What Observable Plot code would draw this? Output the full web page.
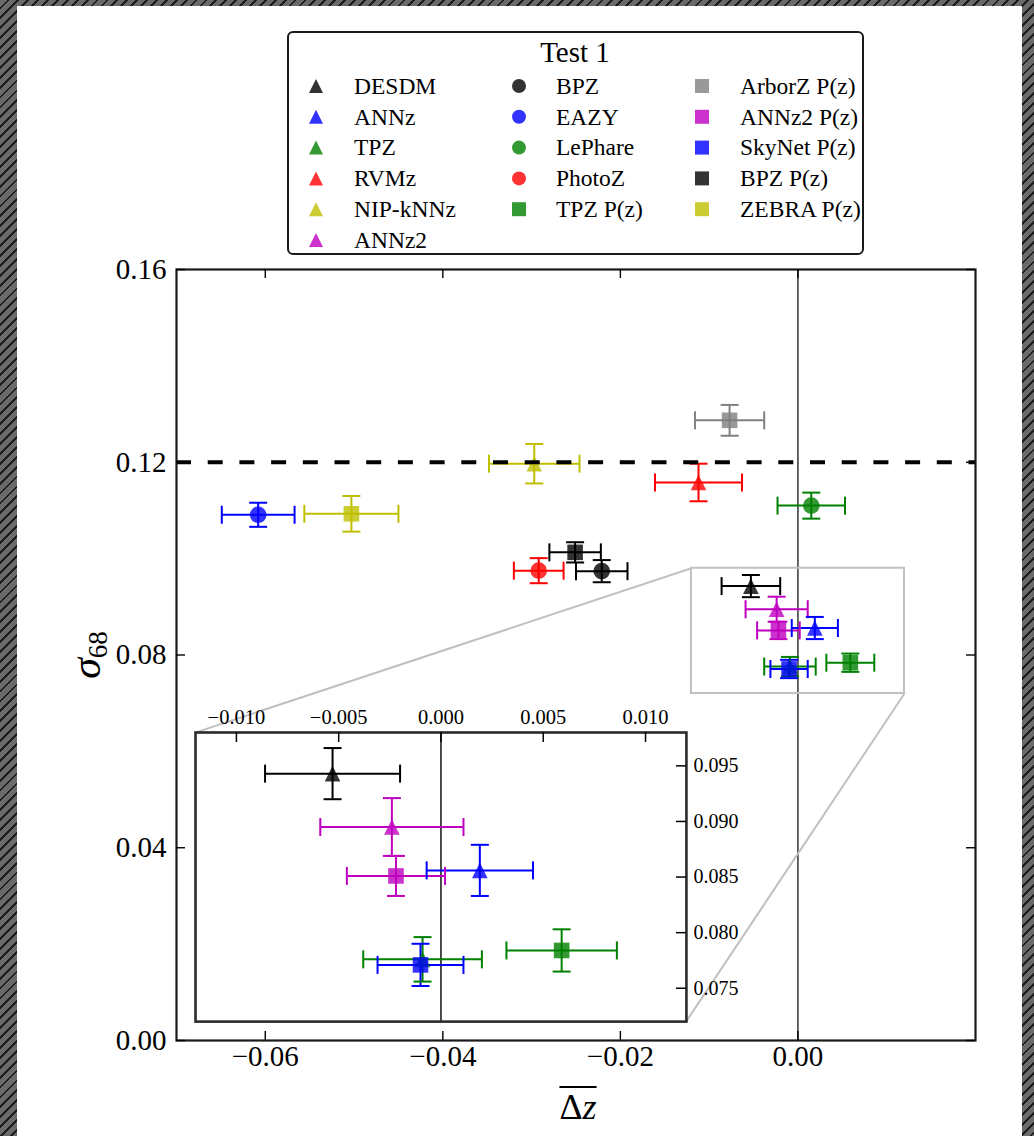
<!DOCTYPE html>
<html><head><meta charset="utf-8">
<script src="https://cdn.jsdelivr.net/npm/d3@7"></script>
<script src="https://cdn.jsdelivr.net/npm/@observablehq/plot@0.6"></script>
<style>
html,body{margin:0;padding:0;}
body{width:1034px;height:1136px;position:relative;overflow:hidden;
 background:repeating-linear-gradient(135deg,#6a6a6a 0px,#6a6a6a 5px,#1c1c1c 5px,#1c1c1c 7px);}
#panel{position:absolute;left:17px;top:6px;width:1005px;height:1130px;background:#fff;}
svg{position:absolute;}
</style></head>
<body>
<div id="panel"></div>
<script>
// ---------------- data ----------------
const methods   = ["DESDM","ANNz","TPZ","RVMz","NIP-kNNz","ANNz2",
                   "BPZ","EAZY","LePhare","PhotoZ","TPZ P(z)",
                   "ArborZ P(z)","ANNz2 P(z)","SkyNet P(z)","BPZ P(z)","ZEBRA P(z)"];
const markerType = ["triangle","triangle","triangle","triangle","triangle","triangle",
                    "circle","circle","circle","circle","square",
                    "square","square","square","square","square"];
const colorName  = ["k","b","g","r","y","m","k","b","g","r","g","gray","m","b","k","y"];
const bias       = [-0.0053, 0.0019,-0.0009,-0.0112,-0.0297,-0.0024,
                    -0.0221,-0.0608, 0.0015,-0.0292, 0.0059,
                    -0.0077,-0.0022,-0.0010,-0.0251,-0.0503];
const biasErr    = [0.0033,0.0026,0.0029,0.0049,0.0051,0.0035,
                    0.0029,0.0041,0.0038,0.0028,0.0027,
                    0.0039,0.0024,0.0021,0.0029,0.0053];
const sigma      = [0.0943,0.0856,0.0776,0.1158,0.1197,0.0895,
                    0.0974,0.1091,0.1110,0.0975,0.0784,
                    0.1287,0.0851,0.0771,0.1013,0.1093];
const sigmaErr   = [0.0023,0.0023,0.0020,0.0039,0.0041,0.0026,
                    0.0023,0.0025,0.0027,0.0026,0.0019,
                    0.0032,0.0018,0.0019,0.0021,0.0037];
const xTicksMain  = [-0.06,-0.04,-0.02,0.00];
const yTicksMain  = [0.00,0.04,0.08,0.12,0.16];
const xTicksInset = [-0.010,-0.005,0.000,0.005,0.010];
const yTicksInset = [0.075,0.080,0.085,0.090,0.095];
const xDomainMain  = [-0.07,0.02];
const yDomainMain  = [0,0.16];
const xDomainInset = [-0.012,0.012];
const yDomainInset = [0.072,0.098];
const insetBoxX = [-0.0679,-0.0126];   // inset frame placement, main data coords
const insetBoxY = [0.0039,0.0639];
const threshold = 0.12;
const legendTitle = "Test 1";
const palette = {k:"#000000",b:"#0000ff",g:"#008000",r:"#ff0000",y:"#bfbf00",m:"#bf00bf",gray:"#808080"};

const rows = methods.map((m,i)=>({name:m,marker:markerType[i],col:palette[colorName[i]],
  x:bias[i],xe:biasErr[i],y:sigma[i],ye:sigmaErr[i]}));

// ---------------- symbols ----------------
const rad = s => Math.sqrt(s/Math.PI);
const SYM = {
  triangle:{draw(c,s){const r=rad(s);c.moveTo(0,-r);c.lineTo(r,r);c.lineTo(-r,r);c.closePath();}},
  circle:{draw(c,s){const r=rad(s);c.moveTo(r,0);c.arc(0,0,r,0,2*Math.PI);c.closePath();}},
  square:{draw(c,s){const r=rad(s);c.rect(-r,-r,2*r,2*r);}}
};
const MR = {triangle:7.8,circle:8.3,square:7.8};
const HCAP = {draw(c,s){const r=rad(s);c.moveTo(-r,0);c.lineTo(r,0);}};
const VCAP = {draw(c,s){const r=rad(s);c.moveTo(0,-r);c.lineTo(0,r);}};
const CAP = 9, EW = 2;
const FONT = "Liberation Serif";

function errMarks(clip){
  const col = d=>d.col;
  return [
    Plot.ruleY(rows,{y:"y",x1:d=>d.x-d.xe,x2:d=>d.x+d.xe,stroke:col,strokeWidth:EW,clip}),
    Plot.ruleX(rows,{x:"x",y1:d=>d.y-d.ye,y2:d=>d.y+d.ye,stroke:col,strokeWidth:EW,clip}),
    Plot.dot(rows,{x:d=>d.x-d.xe,y:"y",symbol:VCAP,r:CAP,stroke:col,fill:"none",strokeWidth:EW,clip}),
    Plot.dot(rows,{x:d=>d.x+d.xe,y:"y",symbol:VCAP,r:CAP,stroke:col,fill:"none",strokeWidth:EW,clip}),
    Plot.dot(rows,{x:"x",y:d=>d.y-d.ye,symbol:HCAP,r:CAP,stroke:col,fill:"none",strokeWidth:EW,clip}),
    Plot.dot(rows,{x:"x",y:d=>d.y+d.ye,symbol:HCAP,r:CAP,stroke:col,fill:"none",strokeWidth:EW,clip}),
    ...["triangle","circle","square"].map(s=>Plot.dot(rows.filter(d=>d.marker===s),
      {x:"x",y:"y",symbol:SYM[s],r:MR[s],fill:col,fillOpacity:0.8,stroke:"none",clip}))
  ];
}

// ---------------- legend ----------------
const leg = d3.select("body").append("svg").attr("width",1034).attr("height",258)
  .style("left","0px").style("top","0px").attr("font-family",FONT);
leg.append("rect").attr("x",288).attr("y",32).attr("width",575).attr("height",222)
  .attr("rx",5).attr("fill","#fff").attr("stroke","#1a1a1a").attr("stroke-width",2);
leg.append("text").attr("x",575).attr("y",62).attr("text-anchor","middle")
  .attr("font-size",29).text(legendTitle);
const colCount = [6,5,5], mX = [316,519,702], tX = [354,556,740];
let k = 0;
colCount.forEach((n,c)=>{
  for(let r=0;r<n;r++,k++){
    const d = rows[k], cy = 86 + r*30.8;
    leg.append("path").attr("transform",`translate(${mX[c]},${cy})`)
      .attr("d",d3.symbol().type(SYM[d.marker]).size(Math.PI*7*7)())
      .attr("fill",d.col).attr("fill-opacity",0.8);
    leg.append("text").attr("x",tX[c]).attr("y",cy+7.8).attr("font-size",23.5).text(d.name);
  }
});

// ---------------- main plot ----------------
const TOP = 258, MT = 11, MB = 96, ML = 176, MRt = 59, W = 1034, H = 1136-TOP;
const FW = W-ML-MRt, FH = H-MT-MB;
const main = Plot.plot({
  width:W,height:H,marginLeft:ML,marginRight:MRt,marginTop:MT,marginBottom:MB,
  x:{domain:xDomainMain,axis:null},
  y:{domain:yDomainMain,axis:null},
  color:{type:"identity"},
  style:{fontFamily:FONT,background:"transparent",color:"black",overflow:"visible"},
  marks:[
    Plot.ruleX([0],{stroke:"black",strokeWidth:1.2}),
    Plot.rect([{}],{x1:xDomainInset[0],x2:xDomainInset[1],y1:yDomainInset[0],y2:yDomainInset[1],
      fill:"none",stroke:"#c0c0c0",strokeWidth:2}),
    Plot.link([
      {x1:xDomainInset[0],y1:yDomainInset[1],x2:insetBoxX[0],y2:insetBoxY[1]},
      {x1:xDomainInset[1],y1:yDomainInset[0],x2:insetBoxX[1],y2:insetBoxY[0]}],
      {x1:"x1",y1:"y1",x2:"x2",y2:"y2",stroke:"#c0c0c0",strokeWidth:2}),
    ...errMarks(false),
    Plot.ruleY([threshold],{stroke:"black",strokeWidth:4,strokeDasharray:"15,16.7"}),
    Plot.frame({stroke:"#1a1a1a",strokeWidth:2.2}),
    Plot.tickX(xTicksMain,{x:d=>d,insetTop:FH-9,strokeWidth:1.4}),
    Plot.tickX(xTicksMain,{x:d=>d,insetBottom:FH-9,strokeWidth:1.4}),
    Plot.tickY(yTicksMain,{y:d=>d,insetRight:FW-9,strokeWidth:1.4}),
    Plot.tickY(yTicksMain,{y:d=>d,insetLeft:FW-9,strokeWidth:1.4}),
    Plot.axisX(xTicksMain,{anchor:"bottom",tickSize:0,tickPadding:5,tickFormat:d3.format(".2f"),fontSize:29,label:null}),
    Plot.axisY(yTicksMain,{anchor:"left",tickSize:0,tickPadding:10,tickFormat:d3.format(".2f"),fontSize:29,label:null})
  ]
});
main.style.left="0px"; main.style.top=TOP+"px";
document.body.appendChild(main);

// axis titles
const ms = d3.select(main);
const yl = ms.append("text").attr("transform",`translate(100,${655-TOP}) rotate(-90)`)
  .attr("text-anchor","middle").attr("font-family",FONT);
yl.append("tspan").attr("font-style","italic").attr("font-size",42).text("σ");
yl.append("tspan").attr("font-size",27).attr("dy",7).text("68");
const xl = ms.append("text").attr("x",578).attr("y",1119-TOP).attr("text-anchor","middle")
  .attr("font-family",FONT).attr("font-size",36);
xl.append("tspan").text("Δ");
xl.append("tspan").attr("font-style","italic").text("z");
const bb = xl.node().getBBox();
ms.append("line").attr("x1",bb.x).attr("x2",bb.x+bb.width).attr("y1",1087-TOP).attr("y2",1087-TOP)
  .attr("stroke","black").attr("stroke-width",2);

// ---------------- inset ----------------
const xs = main.scale("x"), ys = main.scale("y");
const fL = xs.apply(insetBoxX[0]), fR = xs.apply(insetBoxX[1]);
const fT = ys.apply(insetBoxY[1]), fB = ys.apply(insetBoxY[0]);
const IW = fR-fL, IH = fB-fT, iL = 12, iR = 62, iT = 36, iB = 6;
const inset = Plot.plot({
  width:IW+iL+iR,height:IH+iT+iB,marginLeft:iL,marginRight:iR,marginTop:iT,marginBottom:iB,
  x:{domain:xDomainInset,axis:null},
  y:{domain:yDomainInset,axis:null},
  color:{type:"identity"},
  style:{fontFamily:FONT,background:"transparent",color:"black",overflow:"visible"},
  marks:[
    Plot.frame({fill:"white",stroke:"none"}),
    Plot.ruleX([0],{stroke:"black",strokeWidth:1.4}),
    ...errMarks(true),
    Plot.frame({stroke:"#2a2a2a",strokeWidth:2.6}),
    Plot.tickX(xTicksInset,{x:d=>d,insetBottom:IH-10,strokeWidth:1.5}),
    Plot.tickY(yTicksInset,{y:d=>d,insetLeft:IW-10,strokeWidth:1.5}),
    Plot.axisX(xTicksInset,{anchor:"top",tickSize:0,tickPadding:8,tickFormat:d3.format(".3f"),fontSize:20.5,label:null}),
    Plot.axisY(yTicksInset,{anchor:"right",tickSize:0,tickPadding:7,tickFormat:d3.format(".3f"),fontSize:20,label:null})
  ]
});
inset.style.left=(fL-iL)+"px"; inset.style.top=(TOP+fT-iT)+"px";
document.body.appendChild(inset);
</script>
</body></html>
